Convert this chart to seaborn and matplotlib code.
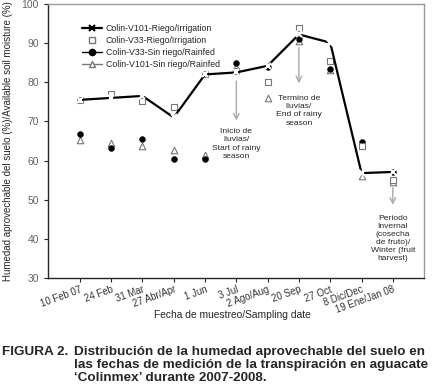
import numpy as np
import pandas as pd
import seaborn as sns
import matplotlib.pyplot as plt
from matplotlib.lines import Line2D

# Sampling dates and soil moisture (%)
dates = ["10 Feb 07", "24 Feb", "31 Mar", "27 Abr/Apr", "1 Jun", "3 Jul",
         "2 Ago/Aug", "20 Sep", "27 Oct", "8 Dic/Dec", "19 Ene/Jan 08"]
v101_riego = [75.5, 76.0, 76.5, 71.0, 82.0, 82.5, 84.2, 92.2, 90.1, 56.8, 57.1]
v33_riego = [75.5, 77.0, 75.3, 73.7, 82.0, 82.8, 80.0, 93.8, 85.3, 63.8, 55.0]
v33_temporal = [66.8, 63.3, 65.4, 60.3, 60.4, 85.0, 84.0, 91.0, 83.5, 64.8, 57.0]
v101_temporal = [65.2, 64.4, 63.8, 62.6, 61.5, 84.0, 76.1, 90.5, 83.0, 56.0, 54.5]

labels = ["Colin-V101-Riego/Irrigation", "Colin-V33-Riego/Irrigation",
          "Colin-V33-Sin riego/Rainfed", "Colin-V101-Sin riego/Rainfed"]

df = pd.DataFrame({"x": np.arange(len(dates)), "v101_riego": v101_riego,
                   "v33_riego": v33_riego, "v33_temporal": v33_temporal,
                   "v101_temporal": v101_temporal})

sns.set_style("ticks")
plt.rcParams["font.family"] = ["Liberation Sans", "DejaVu Sans"]

fig = plt.figure(figsize=(4.32, 3.90), dpi=100)
ax = fig.add_axes([0.111, 0.287, 0.870, 0.703])

sns.scatterplot(data=df, x="x", y="v101_temporal", ax=ax, marker="^", s=22,
                facecolor="white", edgecolor="#777777", linewidth=0.8, zorder=3)
sns.scatterplot(data=df, x="x", y="v33_temporal", ax=ax, marker="o", s=18,
                color="black", edgecolor="black", zorder=3)
sns.scatterplot(data=df, x="x", y="v33_riego", ax=ax, marker="s", s=24,
                facecolor="white", edgecolor="#777777", linewidth=0.8, zorder=3)
sns.lineplot(data=df, x="x", y="v101_riego", ax=ax, color="black", lw=1.6,
             marker="x", markersize=5, markeredgewidth=1.5, zorder=4)

ax.set_xlim(-1.02, 10.99)
ax.set_ylim(30, 100)
ax.set_yticks(range(30, 101, 10))
ax.set_xticks(df["x"])
ax.set_xticklabels(dates, rotation=20, ha="right", rotation_mode="anchor",
                   fontsize=6.9, color="#333333")
ax.tick_params(axis="y", labelsize=7.5, labelcolor="#666666", length=3, width=0.8)
ax.tick_params(axis="x", length=3, width=0.8, pad=1.5)
for s in ax.spines.values():
    s.set_linewidth(1.0)
ax.spines["top"].set_color("#999999")
ax.spines["right"].set_color("#999999")

ax.set_xlabel("Fecha de muestreo/Sampling date", fontsize=7.4)
ax.xaxis.set_label_coords(0.49, -0.118)
ax.set_ylabel("Humedad aprovechable del suelo (%)/Available soil moisture (%)",
              fontsize=7.0, labelpad=6)

handles = [
    Line2D([], [], color="black", lw=1.6, marker="x", markersize=5, markeredgewidth=1.5),
    Line2D([], [], ls="", marker="s", markersize=5, mfc="white", mec="#777777"),
    Line2D([], [], color="black", lw=1.0, marker="o", markersize=4.5, mfc="black", mec="black"),
    Line2D([], [], color="#777777", lw=1.0, marker="^", markersize=5, mfc="white", mec="#777777"),
]
ax.legend(handles, labels, loc="upper left", bbox_to_anchor=(0.07, 0.955),
          frameon=False, fontsize=6.3, handlelength=2.3, handletextpad=0.4,
          labelspacing=0.35)

# Arrows marking seasonal events
arrow_kw = dict(arrowstyle="->", color="#aaaaaa", lw=1.0, mutation_scale=10)
ax.annotate("", xy=(5, 69.5), xytext=(5, 81), arrowprops=arrow_kw)
ax.annotate("", xy=(7, 79), xytext=(7, 89.5), arrowprops=arrow_kw)
ax.annotate("", xy=(10, 48), xytext=(10, 53.8), arrowprops=arrow_kw)

ax.text(5, 68.3, "Inicio de\nlluvias/\nStart of rainy\nseason", ha="center",
        va="top", fontsize=6.1, linespacing=1.25)
ax.text(7, 76.8, "Termino de\nlluvias/\nEnd of rainy\nseason", ha="center",
        va="top", fontsize=6.1, linespacing=1.25)
ax.text(10, 46.2, "Periodo\nInvernal\n(cosecha\nde fruto)/\nWinter (fruit\nharvest)",
        ha="center", va="top", fontsize=6.1, linespacing=1.2)

cap_kw = dict(fontsize=9.7, fontweight="bold", va="center")
fig.text(0.004, 0.097, "FIGURA 2.", **cap_kw)
fig.text(0.172, 0.097, "Distribución de la humedad aprovechable del suelo en", **cap_kw)
fig.text(0.172, 0.064, "las fechas de medición de la transpiración en aguacate", **cap_kw)
fig.text(0.172, 0.031, "‘Colinmex’ durante 2007-2008.", **cap_kw)

fig.savefig("out.png", dpi=100)
